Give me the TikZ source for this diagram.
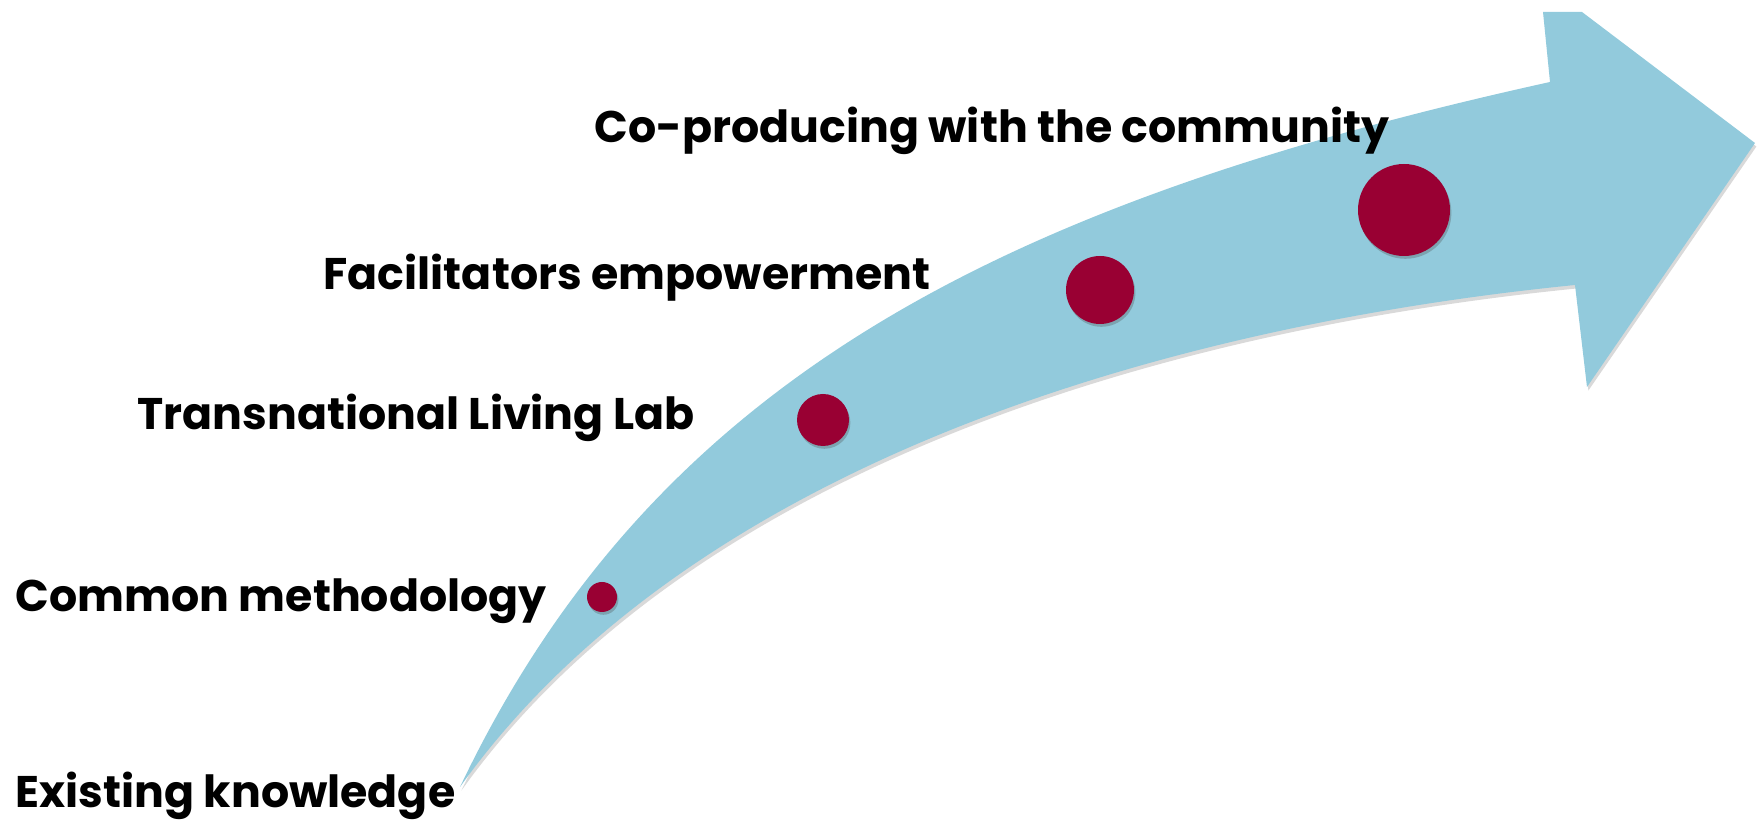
\documentclass[tikz,border=0pt]{standalone}
\usepackage{fontspec}
\setmainfont{Poppins}
\usetikzlibrary{shadows}
\definecolor{arrowblue}{HTML}{92CADC}
\definecolor{dotred}{HTML}{990033}
\begin{document}
\begin{tikzpicture}[x=0.1mm,y=-0.1mm,line join=round,
    stage/.style={anchor=base west,inner sep=0pt,font=\fontsize{12.6}{15}\selectfont\bfseries},
    dot/.style={circle,fill=dotred,inner sep=0pt,
      drop shadow={shadow xshift=0.4pt,shadow yshift=-0.8pt,opacity=0.3,fill=black!70}}]
	\useasboundingbox (0,0) rectangle (1758,820);
	% curved arrow
	\path[fill=arrowblue,drop shadow={shadow xshift=0.4pt,shadow yshift=-1pt,opacity=0.25,fill=black!60}]
	  (460,787) .. controls (653,382) and (997,204) .. (1550,82)
	  -- (1543,12) -- (1582,12) -- (1755,143) -- (1587,387) -- (1575,285)
	  .. controls (1164,326) and (691,464) .. (460,787) -- cycle;
	% stages
	\foreach \n/\x/\y/\d in {d1/602/597/3mm, d2/823/420/5.2mm, d3/1100/290/6.8mm, d4/1404/210/9.2mm}{
		\node[dot,minimum size=\d] (\n) at (\x,\y) {};
	}
	\node[stage] (existing) at (15,808) {Existing knowledge};
	\node[stage] (common) at (15,612) {Common methodology};
	\node[stage] (living) at (137,430) {Transnational Living Lab};
	\node[stage] (facil) at (323,290) {Facilitators empowerment};
	\node[stage] (coprod) at (594,143) {Co-producing with the community};
\end{tikzpicture}
\end{document}
